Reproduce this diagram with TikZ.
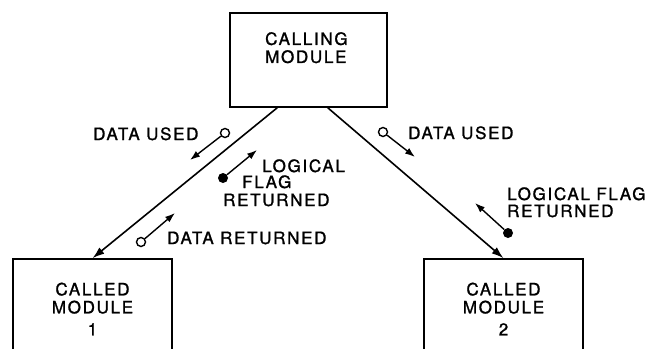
\documentclass[tikz,border=0pt]{standalone}
\usepackage{fontspec}
\usepackage{tikz}
\usetikzlibrary{positioning,arrows.meta,calc}
\newfontfamily\lblfont[LetterSpace=10,FakeBold=1.3]{TeX Gyre Heros}

\begin{document}
\begin{tikzpicture}[x=1pt,y=-1pt,
    modbox/.style={rectangle,draw,line width=1.6pt,font=\lblfont\fontsize{17}{18}\selectfont,align=center},
    lbl/.style={inner sep=0pt,font=\lblfont\fontsize{17}{18}\selectfont},
    hole/.style={circle,draw,line width=1.4pt,fill=white,inner sep=0pt,minimum size=9pt},
    dot/.style={circle,fill=black,inner sep=0pt,minimum size=10pt},
    flow/.style={line width=1.6pt,-{Latex[length=12pt,width=8pt]}},
    sig/.style={line width=1.4pt,-{Latex[length=10pt,width=7pt]}}]
\clip (0,0) rectangle (652,348);

% modules
\node[modbox,minimum width=157pt,minimum height=94pt] (caller) at (308.5,60) {};
\node[lbl,align=left,anchor=north west] (callertxt) at (265,32) {CALLING\\MODULE};
\node[modbox,minimum width=159pt,minimum height=100pt] (called1) at (92.5,309) {CALLED\\MODULE\\[4pt]1};
\node[modbox,minimum width=159pt,minimum height=100pt] (called2) at (503.5,309) {CALLED\\MODULE\\[4pt]2};

% calls
\coordinate (l0) at ($(caller.south west)+(48,0)$);
\coordinate (r0) at ($(caller.south east)+(-60,0)$);
\draw[flow] (l0) -- (called1.north);
\draw[flow] (r0) -- (called2.north);

% couples, left
\node[hole] (du1) at (225,133) {};
\coordinate (du1h) at (190,160);
\draw[sig] (du1) -- (du1h);
\node[lbl,anchor=base west] (du1t) at (93,140) {DATA USED};

\node[dot] (lf1) at (223,178) {};
\coordinate (lf1h) at (257,150);
\draw[sig] (lf1) -- (lf1h);
\node[lbl,anchor=base west] (lf1a) at (262,172) {LOGICAL};
\node[lbl,anchor=base west] (lf1b) at (242,188) {FLAG};
\node[lbl,anchor=base west] (lf1c) at (223,206) {RETURNED};

\node[hole] (dr1) at (141,242) {};
\coordinate (dr1h) at (175,213);
\draw[sig] (dr1) -- (dr1h);
\node[lbl,anchor=base west] (dr1t) at (167,244) {DATA RETURNED};

% couples, right
\node[hole] (du2) at (383,132) {};
\coordinate (du2h) at (415,157);
\draw[sig] (du2) -- (du2h);
\node[lbl,anchor=base west] (du2t) at (408,139) {DATA USED};

\node[dot] (lf2) at (508,233) {};
\coordinate (lf2h) at (475,203);
\draw[sig] (lf2) -- (lf2h);
\node[lbl,anchor=base west] (lf2a) at (507,200) {LOGICAL FLAG};
\node[lbl,anchor=base west] (lf2b) at (507,217) {RETURNED};
\end{tikzpicture}
\end{document}
